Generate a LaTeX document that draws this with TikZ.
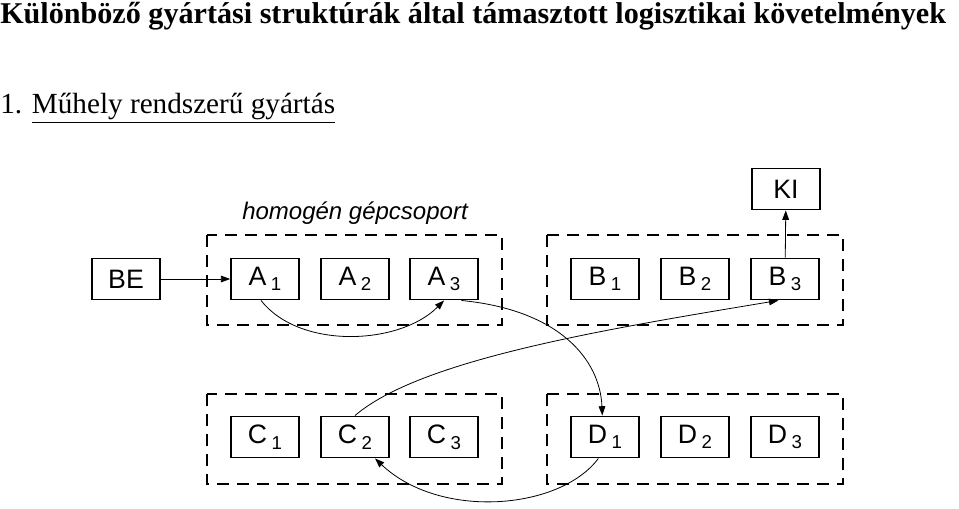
\documentclass[tikz,border=0pt]{standalone}
\usepackage{fontspec}
\setmainfont{Liberation Serif}
\setsansfont{Liberation Sans}
\usetikzlibrary{arrows.meta}
\begin{document}
\begin{tikzpicture}[x=0.75pt,y=-0.75pt,
  mbox/.style={draw,line width=1.2pt,minimum width=51pt,minimum height=31pt,inner sep=0pt,font=\sffamily\fontsize{20}{20}\selectfont},
  grp/.style={draw,line width=1.2pt,dash pattern=on 9pt off 6pt},
  con/.style={-{Triangle[length=7pt,width=5pt]},line width=0.6pt}]
\useasboundingbox (0,0) rectangle (959,509);
\node[anchor=north west,inner sep=0pt,font=\bfseries\fontsize{22.6}{23}\selectfont] (t) at (0,2) {Különböző gyártási struktúrák által támasztott logisztikai követelmények};
\node[anchor=west,inner sep=0pt,font=\fontsize{21.9}{22}\selectfont] (s) at (0,108) {1. \underline{Műhely rendszerű gyártás}};
\node[font=\sffamily\itshape\fontsize{18}{18}\selectfont] (h) at (355,213) {homogén gépcsoport};
\draw[grp] (207,235) rectangle (502,325);
\draw[grp] (547,235) rectangle (843,325);
\draw[grp] (207,394) rectangle (502,484);
\draw[grp] (547,394) rectangle (843,484);
\node[mbox] (BE) at (126,279) {BE};
\node[mbox] (KI) at (786,189) {KI};
\foreach \n/\x in {1/265,2/355,3/444}{
  \node[mbox] (A\n) at (\x,279) {A\,\raisebox{-0.4ex}{\fontsize{14}{14}\selectfont\n}};
  \node[mbox] (C\n) at (\x,437) {C\,\raisebox{-0.4ex}{\fontsize{14}{14}\selectfont\n}};}
\foreach \n/\x in {1/605,2/695,3/785}{
  \node[mbox] (B\n) at (\x,279) {B\,\raisebox{-0.4ex}{\fontsize{14}{14}\selectfont\n}};
  \node[mbox] (D\n) at (\x,437) {D\,\raisebox{-0.4ex}{\fontsize{14}{14}\selectfont\n}};}
\draw[con] (BE) -- (A1);
\draw[con] (B3) -- (KI);
\draw[con] ([xshift=-3pt]A1.south) .. controls (300,350) and (400,345) .. ([xshift=0pt]A3.south);
\draw[con] ([xshift=13pt]A3.south) .. controls (560,310) and (600,360) .. ([xshift=-2pt]D1.north);
\draw[con] (C2.north) .. controls (420,360) and (600,330) .. ([xshift=-5pt]B3.south);
\draw[con] ([xshift=-5pt]D1.south) .. controls (560,510) and (440,520) .. ([xshift=15pt]C2.south);
\end{tikzpicture}
\end{document}
